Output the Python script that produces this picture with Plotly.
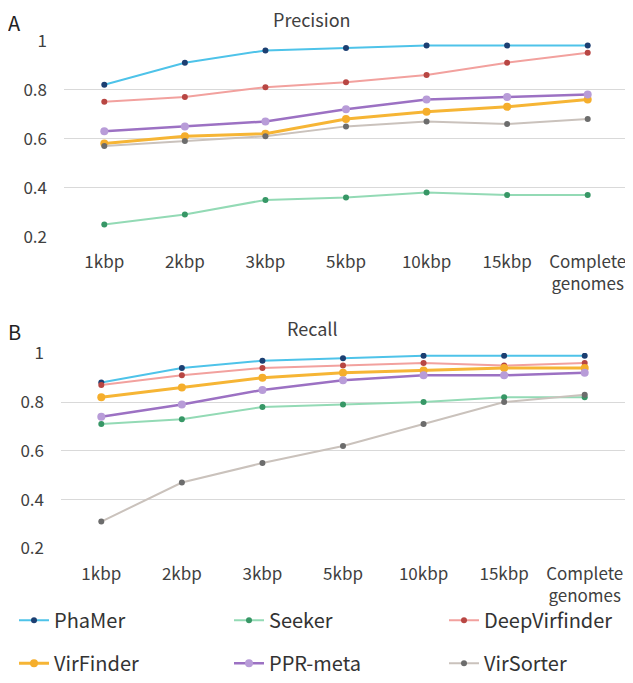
import plotly.graph_objects as go

# 数据
categories = ["1kbp", "2kbp", "3kbp", "5kbp", "10kbp", "15kbp", "Complete<br>genomes"]
y_ticks = [0.2, 0.4, 0.6, 0.8, 1.0]
y_tick_text = ["0.2", "0.4", "0.6", "0.8", "1"]

tools = ["PhaMer", "Seeker", "DeepVirfinder", "VirFinder", "PPR-meta", "VirSorter"]

precision = {
    "PhaMer":        [0.82, 0.91, 0.96, 0.97, 0.98, 0.98, 0.98],
    "Seeker":        [0.25, 0.29, 0.35, 0.36, 0.38, 0.37, 0.37],
    "DeepVirfinder": [0.75, 0.77, 0.81, 0.83, 0.86, 0.91, 0.95],
    "VirFinder":     [0.58, 0.61, 0.62, 0.68, 0.71, 0.73, 0.76],
    "PPR-meta":      [0.63, 0.65, 0.67, 0.72, 0.76, 0.77, 0.78],
    "VirSorter":     [0.57, 0.59, 0.61, 0.65, 0.67, 0.66, 0.68],
}

recall = {
    "PhaMer":        [0.88, 0.94, 0.97, 0.98, 0.99, 0.99, 0.99],
    "Seeker":        [0.71, 0.73, 0.78, 0.79, 0.80, 0.82, 0.82],
    "DeepVirfinder": [0.87, 0.91, 0.94, 0.95, 0.96, 0.95, 0.96],
    "VirFinder":     [0.82, 0.86, 0.90, 0.92, 0.93, 0.94, 0.94],
    "PPR-meta":      [0.74, 0.79, 0.85, 0.89, 0.91, 0.91, 0.92],
    "VirSorter":     [0.31, 0.47, 0.55, 0.62, 0.71, 0.80, 0.83],
}

# 样式: 线颜色, 点颜色, 线宽, 点大小
styles = {
    "PhaMer":        ("#4EC3E9", "#1C3F72", 2, 6),
    "Seeker":        ("#93DAB5", "#379766", 2, 6),
    "DeepVirfinder": ("#F2A19E", "#B84643", 2, 6),
    "VirFinder":     ("#F6B535", "#F5AE2C", 3, 8),
    "PPR-meta":      ("#9C71C3", "#B89CD8", 2.5, 8),
    "VirSorter":     ("#CAC2BC", "#6C6C6C", 2, 6),
}

# 图例位置 (像素, 图内坐标): 每个工具一个图例
legend_pos = {
    "PhaMer": (6, 618.7), "Seeker": (221, 618.7), "DeepVirfinder": (436, 618.7),
    "VirFinder": (6, 662), "PPR-meta": (221, 662), "VirSorter": (436, 662),
}

FONT = "Noto Sans CJK SC"
TEXT = "#404040"
W, H = 625, 675  # 页面 body 默认 8px 边距

fig = go.Figure()

legend_layout = {}
for i, tool in enumerate(tools):
    line_c, mk_c, lw, ms = styles[tool]
    legend_id = "legend" if i == 0 else f"legend{i + 1}"
    # 上图 Precision
    fig.add_trace(go.Scatter(
        x=categories, y=precision[tool], name=tool, mode="lines+markers",
        line=dict(color=line_c, width=lw), marker=dict(color=mk_c, size=ms),
        xaxis="x", yaxis="y", legend=legend_id, showlegend=True,
    ))
    # 下图 Recall
    fig.add_trace(go.Scatter(
        x=categories, y=recall[tool], name=tool, mode="lines+markers",
        line=dict(color=line_c, width=lw), marker=dict(color=mk_c, size=ms),
        xaxis="x2", yaxis="y2", showlegend=False,
    ))
    px, py = legend_pos[tool]
    legend_layout[legend_id] = dict(
        x=px / W, y=1 - py / H, xanchor="left", yanchor="middle",
        font=dict(family=FONT, size=20, color="#333333"),
        itemwidth=30, bgcolor="rgba(0,0,0,0)",
    )

xaxis_style = dict(
    type="category", showgrid=False, zeroline=False, showline=False, ticks="",
    tickfont=dict(family=FONT, size=17, color=TEXT), ticklabelstandoff=13,
    range=[-0.5, 6.5], automargin=False,
)
yaxis_style = dict(
    range=[0.199, 1.001], tickvals=y_ticks, ticktext=y_tick_text,
    showgrid=True, gridcolor="#D9D9D9", gridwidth=1, zeroline=False, showline=False,
    ticks="", tickfont=dict(family=FONT, size=17, color=TEXT), ticklabelstandoff=16,
    automargin=False,
)

fig.update_layout(
    width=W, height=H,
    margin=dict(l=0, r=0, t=0, b=0),
    paper_bgcolor="white", plot_bgcolor="white",
    xaxis=dict(domain=[56 / W, 620 / W], anchor="y", **xaxis_style),
    yaxis=dict(domain=[1 - 231.3 / H, 1 - 32.7 / H], anchor="x", **yaxis_style),
    xaxis2=dict(domain=[53 / W, 617 / W], anchor="y2", **xaxis_style),
    yaxis2=dict(domain=[1 - 546.3 / H, 1 - 348.7 / H], anchor="x2", **yaxis_style),
    annotations=[
        dict(text="Precision", x=304 / W, y=1 - 11 / H, xref="paper", yref="paper",
             xanchor="center", yanchor="middle",
             showarrow=False, font=dict(family=FONT, size=18, color=TEXT)),
        dict(text="Recall", x=304 / W, y=1 - 323 / H, xref="paper", yref="paper",
             xanchor="center", yanchor="middle",
             showarrow=False, font=dict(family=FONT, size=18, color=TEXT)),
        dict(text="A", x=-2 / W, y=1 - 15 / H, xref="paper", yref="paper",
             xanchor="left", yanchor="middle",
             showarrow=False, font=dict(family=FONT, size=20, color="#222222")),
        dict(text="B", x=-2 / W, y=1 - 327 / H, xref="paper", yref="paper",
             xanchor="left", yanchor="middle",
             showarrow=False, font=dict(family=FONT, size=20, color="#222222")),
    ],
    **legend_layout,
)

fig.write_html("out.html")
